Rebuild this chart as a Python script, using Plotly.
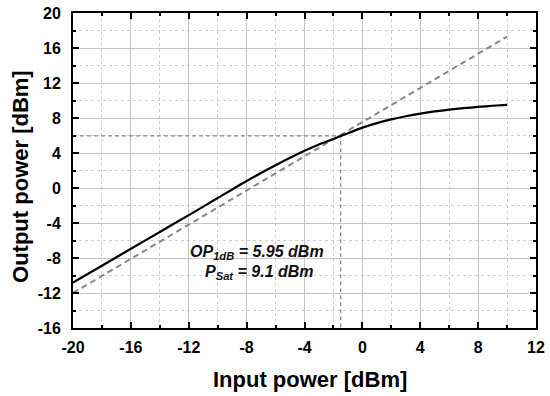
import plotly.graph_objects as go

# Data
pin = [-20, -18, -16, -14, -12, -10, -8, -6, -4, -3, -2, -1.5, -1, 0, 1, 2, 3, 4, 5, 6, 7, 8, 9, 10]
pout = [-10.8, -8.88, -6.95, -5.02, -3.1, -1.15, 0.8, 2.6, 4.25, 4.98, 5.6, 5.95, 6.25, 6.9, 7.42, 7.85, 8.2, 8.5, 8.75, 8.95, 9.12, 9.27, 9.4, 9.5]
lin_x = [-20, 10]
lin_y = [-12.0, 17.3]
op1db_x = -1.5
op1db_y = 5.95
xmin, xmax = -20, 12
ymin, ymax = -16, 20
x_tickvals = [-20, -16, -12, -8, -4, 0, 4, 8, 12]
x_ticktext = ["-20", "-16", "-12", "-8", "-4", "0", "4", "8", "12"]
y_tickvals = [-16, -12, -8, -4, 0, 4, 8, 12, 16, 20]
y_ticktext = ["-16", "-12", "-8", "-4", "0", "4", "8", "12", "16", "20"]
note1 = "<b><i>OP<sub>1dB</sub> = 5.95 dBm</i></b>"
note2 = "<b><i>P<sub>Sat</sub> = 9.1 dBm</i></b>"
xtitle = "<b>Input power [dBm]</b>"
ytitle = "<b>Output power [dBm]</b>"

FONT = "Liberation Sans, Arial"

fig = go.Figure()
fig.add_trace(go.Scatter(x=lin_x, y=lin_y, mode="lines",
                         line=dict(color="#888888", width=2, dash="6px,4px"), showlegend=False))
fig.add_trace(go.Scatter(x=[xmin, op1db_x, op1db_x], y=[op1db_y, op1db_y, ymin], mode="lines",
                         line=dict(color="#888888", width=1.2, dash="4px,3px"), showlegend=False))
fig.add_trace(go.Scatter(x=pin, y=pout, mode="lines", line=dict(color="black", width=2.2, shape="spline", smoothing=0.6),
                         showlegend=False))

fig.add_annotation(x=-7.3, y=-7.4, text=note1, showarrow=False,
                   font=dict(family=FONT, size=16, color="#111111"))
fig.add_annotation(x=-7.1, y=-9.7, text=note2, showarrow=False,
                   font=dict(family=FONT, size=16, color="#111111"))

# axis titles
fig.add_annotation(xref="paper", yref="paper", x=0.512, y=-0.165, text=xtitle, showarrow=False,
                   font=dict(family=FONT, size=22, color="black"), xanchor="center", yanchor="middle")
fig.add_annotation(xref="paper", yref="paper", x=-0.112, y=0.48, text=ytitle, showarrow=False, textangle=-90,
                   font=dict(family=FONT, size=22, color="black"), xanchor="center", yanchor="middle")

axis_common = dict(
    showline=True, linecolor="black", linewidth=2, mirror="ticks",
    ticks="inside", ticklen=6, tickwidth=2, tickcolor="black",
    showgrid=True, gridcolor="#c4c4c4", gridwidth=1,
    zeroline=False, automargin=False,
    tickfont=dict(family=FONT, size=16, color="black", weight="bold"),
    minor=dict(ticks="inside", ticklen=3, tickwidth=1.5, tickcolor="black", dtick=2, tick0=0,
               showgrid=True, gridcolor="#d0d0d0", griddash="dot", gridwidth=1),
)

fig.update_xaxes(range=[xmin, xmax], tickmode="array", tickvals=x_tickvals, ticktext=x_ticktext,
                 ticklabelstandoff=4, **axis_common)
fig.update_yaxes(range=[ymin, ymax], tickmode="array", tickvals=y_tickvals, ticktext=y_ticktext,
                 ticklabelstandoff=7, **axis_common)

fig.update_layout(width=550, height=396, margin=dict(l=73, r=14, t=13, b=68),
                  plot_bgcolor="white", paper_bgcolor="white")

fig.write_html("out.html", config={"displayModeBar": False},
               post_script="document.body.style.margin='0';document.body.style.overflow='hidden';")
